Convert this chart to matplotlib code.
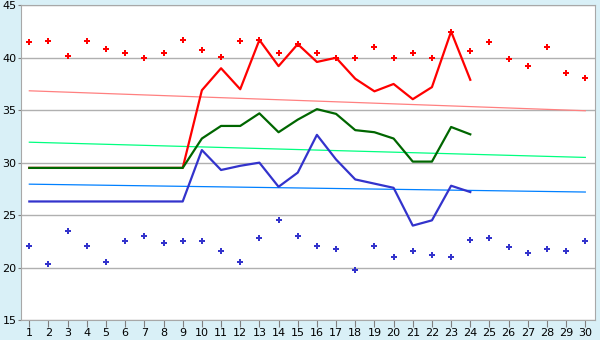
import matplotlib
matplotlib.use('Agg')
import matplotlib.pyplot as plt

days = list(range(1, 31))
line_days = list(range(1, 25))

# measured lines (days 1-24)
red_line = [29.5, 29.5, 29.5, 29.5, 29.5, 29.5, 29.5, 29.5, 29.5, 36.9, 39.0, 37.0,
            41.7, 39.2, 41.3, 39.6, 40.0, 38.0, 36.8, 37.5, 36.05, 37.2, 42.5, 37.9]
green_line = [29.5, 29.5, 29.5, 29.5, 29.5, 29.5, 29.5, 29.5, 29.5, 32.3, 33.5, 33.5,
              34.7, 32.9, 34.1, 35.1, 34.65, 33.1, 32.9, 32.3, 30.1, 30.1, 33.4, 32.7]
blue_line = [26.3, 26.3, 26.3, 26.3, 26.3, 26.3, 26.3, 26.3, 26.3, 31.2, 29.3, 29.7,
             30.0, 27.7, 29.05, 32.65, 30.3, 28.4, 28.0, 27.6, 24.0, 24.5, 27.8, 27.2]

# scattered points (days 1-30)
red_pts = [41.5, 41.6, 40.2, 41.6, 40.8, 40.5, 40.0, 40.5, 41.7, 40.7, 40.1, 41.6,
           41.7, 40.5, 41.3, 40.5, 40.0, 40.0, 41.0, 40.0, 40.5, 40.0, 42.5, 40.6,
           41.5, 39.85, 39.2, 41.0, 38.5, 38.1]
blue_pts = [22.1, 20.3, 23.5, 22.1, 20.5, 22.5, 23.0, 22.3, 22.5, 22.5, 21.6, 20.5,
            22.8, 24.5, 23.0, 22.05, 21.8, 19.75, 22.05, 21.0, 21.6, 21.2, 21.0, 22.6,
            22.8, 21.95, 21.4, 21.8, 21.6, 22.5]

# trend lines, value at day 1 and day 30
trend_days = [1, 30]
red_trend = [36.85, 34.95]
green_trend = [31.95, 30.5]
blue_trend = [27.95, 27.2]

bg = '#d9f0f7'
fig = plt.figure(figsize=(6, 3.4), dpi=100, facecolor=bg)
ax = fig.add_axes([0.0345, 0.0588, 0.957, 0.9256])
ax.set_facecolor('white')

for y in range(15, 46, 5):
    ax.axhline(y, color='#b0b0b0', lw=1, zorder=1)

ax.plot(trend_days, red_trend, color='#ff8080', lw=0.9, zorder=2)
ax.plot(trend_days, green_trend, color='#00ff80', lw=0.9, zorder=2)
ax.plot(trend_days, blue_trend, color='#0080ff', lw=0.9, zorder=2)

ax.plot(line_days, red_line, color='#ff0000', lw=1.6, zorder=3)
ax.plot(line_days, green_line, color='#006600', lw=1.6, zorder=4)
ax.plot(line_days, blue_line, color='#3333cc', lw=1.6, zorder=4)

ax.plot(days, red_pts, ls='none', marker='P', ms=4.2, color='#ff0000', mew=0, zorder=5)
ax.plot(days, blue_pts, ls='none', marker='P', ms=4.2, color='#3333cc', mew=0, zorder=5)

ax.set_xlim(0.55, 30.5)
ax.set_ylim(15, 45)
ax.set_xticks(days)
ax.set_yticks(range(15, 46, 5))
for s in ax.spines.values():
    s.set_color('#a8a8a8')
ax.tick_params(axis='x', direction='out', length=5, color='#808080', labelsize=8, pad=1)
ax.tick_params(axis='y', direction='out', length=2, color='#808080', labelsize=8, pad=1)

plt.savefig('out.png', dpi=100, facecolor=bg)
